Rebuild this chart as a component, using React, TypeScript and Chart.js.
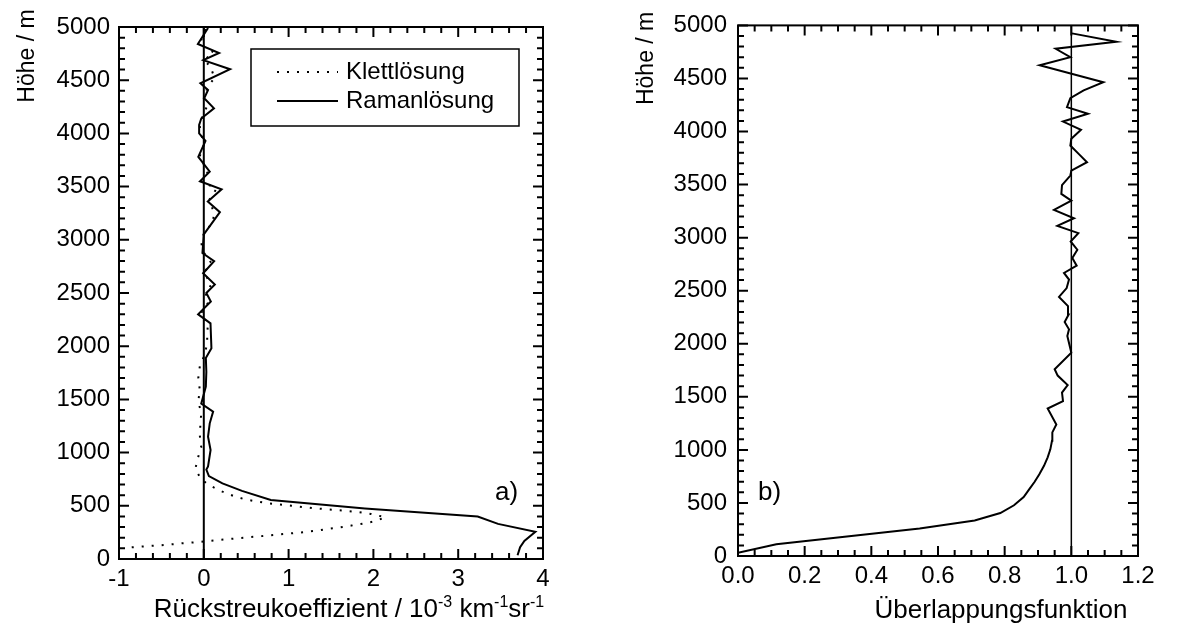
import React, { useEffect, useRef } from "react";
import { Chart, registerables } from "chart.js";

Chart.register(...registerables);

const FONT = "'Liberation Sans', Arial, Helvetica, sans-serif";

// ---- Panel a) : backscatter coefficient profiles ----
const ramanHeights = [
  35, 110, 170, 255, 330, 400, 475, 555, 640, 710, 780, 840, 870, 1025, 1150, 1275, 1385, 1460,
  1620, 1760, 1890, 1980, 2215, 2300, 2420, 2500, 2580, 2685, 2800, 2875, 3050, 3260, 3360,
  3475, 3550, 3640, 3780, 3930, 4000, 4080, 4140, 4236, 4330, 4408, 4471, 4603, 4688, 4756,
  4840, 4990,
];
const ramanValues = [
  3.70, 3.73, 3.78, 3.91, 3.47, 3.23, 1.90, 0.79, 0.45, 0.22, 0.06, 0.03, 0.05, 0.08, 0.05,
  0.07, 0.11, -0.03, 0.024, 0.03, 0.024, 0.09, 0.079, -0.067, 0.083, 0.03, 0.13, -0.008, 0.122,
  -0.016, 0.0, 0.19, 0.047, 0.21, -0.045, 0.07, -0.065, 0.02, -0.055, -0.055, -0.03, 0.12,
  0.005, 0.05, -0.04, 0.31, -0.005, 0.18, -0.07, 0.05,
];

const klettHeights = [
  110, 120, 130, 140, 148, 155, 175, 185, 195, 205, 215, 225, 235, 245, 255, 268, 283, 298, 314,
  333, 355, 392, 424, 440, 452, 461, 468, 477, 489, 501, 512, 523, 539, 558, 589, 633, 683, 746,
  846, 949, 1050, 1160, 1265, 1370, 1480, 1590, 1700, 1810, 1900, 2020, 2120, 2215, 2300, 2420,
  2500, 2580, 2690, 2780, 2880, 2970, 3060, 3170, 3260, 3370, 3480, 3550, 3640, 3780, 3910,
  4000, 4095, 4250, 4330, 4440, 4520, 4627, 4690, 4760, 4840, 4990,
];
const klettValues = [
  -0.85, -0.68, -0.5, -0.35, -0.25, -0.13, 0.13, 0.26, 0.4, 0.54, 0.68, 0.82, 0.95, 1.08, 1.21,
  1.34, 1.47, 1.61, 1.74, 1.88, 2.02, 2.14, 1.97, 1.83, 1.69, 1.56, 1.44, 1.3, 1.165, 1.03, 0.9,
  0.765, 0.635, 0.5, 0.36, 0.22, 0.09, -0.03, -0.1, -0.07, -0.03, -0.047, -0.04, -0.03, -0.065,
  -0.047, -0.065, -0.047, 0.0, 0.04, 0.04, 0.05, -0.04, 0.06, 0.02, 0.09, 0.0, 0.09, 0.0, -0.03,
  0.0, 0.11, 0.12, 0.06, 0.15, -0.03, 0.05, -0.05, 0.01, -0.04, -0.05, 0.035, 0.0, 0.047, 0.126,
  0.08, 0.0, 0.12, -0.05, 0.03,
];

// ---- Panel b) : overlap function ----
const overlapHeights = [
  30, 110, 260, 335, 405, 478, 556, 630, 700, 770, 850, 930, 1005, 1085, 1165, 1240, 1390, 1460,
  1540, 1610, 1700, 1760, 1915, 2073, 2136, 2205, 2275, 2355, 2442, 2525, 2605, 2667, 2736,
  2808, 2886, 2964, 3043, 3111, 3183, 3261, 3349, 3412, 3495, 3585, 3632, 3711, 3789, 3868,
  3931, 4016, 4094, 4167, 4230, 4315, 4387, 4465, 4625, 4700, 4780, 4845, 4925,
];
const overlapValues = [
  0.0, 0.115, 0.545, 0.71, 0.787, 0.828, 0.857, 0.874, 0.89, 0.904, 0.918, 0.929, 0.937, 0.942,
  0.943, 0.955, 0.929, 0.975, 0.972, 0.989, 0.959, 0.95, 1.0, 0.988, 0.993, 0.98, 0.992, 0.99,
  0.963, 0.986, 0.993, 0.978, 1.016, 1.003, 1.018, 0.998, 1.021, 0.958, 1.008, 0.948, 1.0, 0.97,
  0.972, 0.997, 1.0, 1.047, 1.022, 0.997, 1.0, 1.029, 0.975, 1.05, 0.987, 0.997, 1.037, 1.096,
  0.905, 0.997, 0.953, 1.135, 1.002,
];

const heightTicksMajor = 500;
const heightTicksMinor = 100;

const toPoints = (hs: number[], vs: number[]) => hs.map((h, i) => ({ x: vs[i], y: h }));

const framePlugin = {
  id: "frame",
  afterDatasetsDraw(chart: any, _args: any, opts: any) {
    const { ctx, chartArea: a, scales } = chart;
    const x = scales.x;
    const y = scales.y;
    ctx.save();
    ctx.strokeStyle = "#000";
    ctx.lineCap = "butt";
    // reference line
    const rx = x.getPixelForValue(opts.refX);
    ctx.lineWidth = opts.refWidth;
    ctx.beginPath();
    ctx.moveTo(rx, a.top);
    ctx.lineTo(rx, a.bottom);
    ctx.stroke();
    // frame
    ctx.lineWidth = 2;
    ctx.strokeRect(a.left, a.top, a.right - a.left, a.bottom - a.top);
    // ticks
    const major = 10;
    const minor = 6;
    ctx.lineWidth = 2;
    ctx.beginPath();
    const nx = Math.round((opts.xMax - opts.xMin) / opts.xMinor);
    for (let i = 0; i <= nx; i++) {
      const v = opts.xMin + i * opts.xMinor;
      const px = x.getPixelForValue(v);
      const isMajor = Math.abs(v / opts.xMajor - Math.round(v / opts.xMajor)) < 1e-6;
      const len = isMajor ? major : minor;
      ctx.moveTo(px, a.bottom);
      ctx.lineTo(px, a.bottom - len);
      ctx.moveTo(px, a.top);
      ctx.lineTo(px, a.top + len);
    }
    const ny = Math.round(5000 / heightTicksMinor);
    for (let i = 0; i <= ny; i++) {
      const v = i * heightTicksMinor;
      const py = y.getPixelForValue(v);
      const len = v % heightTicksMajor === 0 ? major : minor;
      ctx.moveTo(a.left, py);
      ctx.lineTo(a.left + len, py);
      ctx.moveTo(a.right, py);
      ctx.lineTo(a.right - len, py);
    }
    ctx.stroke();

    // y title
    ctx.fillStyle = "#000";
    ctx.font = `23px ${FONT}`;
    ctx.save();
    ctx.translate(a.left + opts.yTitleDx, a.top + opts.yTitleDy);
    ctx.rotate(-Math.PI / 2);
    ctx.textAlign = "center";
    ctx.textBaseline = "middle";
    ctx.fillText("Höhe / m", 0, 0);
    ctx.restore();

    // x title with superscripts
    const parts: [string, boolean][] = opts.xTitle;
    const mainSize = 26;
    const supSize = 16;
    let total = 0;
    for (const [t, sup] of parts) {
      ctx.font = `${sup ? supSize : mainSize}px ${FONT}`;
      total += ctx.measureText(t).width;
    }
    let tx = a.left + opts.xTitleCx - total / 2;
    const by = a.bottom + opts.xTitleDy;
    ctx.textAlign = "left";
    ctx.textBaseline = "alphabetic";
    for (const [t, sup] of parts) {
      ctx.font = `${sup ? supSize : mainSize}px ${FONT}`;
      ctx.fillText(t, tx, sup ? by - 10 : by);
      tx += ctx.measureText(t).width;
    }

    // panel label
    ctx.font = `26px ${FONT}`;
    ctx.textAlign = "left";
    ctx.textBaseline = "middle";
    ctx.fillText(opts.panel, a.left + opts.panelDx, a.bottom - opts.panelDy);

    // legend
    if (opts.legend) {
      const L = opts.legend;
      const bx = a.left + L.dx;
      const bt = a.top + L.dy;
      ctx.lineWidth = 1.5;
      ctx.strokeRect(bx, bt, L.w, L.h);
      ctx.font = `24px ${FONT}`;
      L.items.forEach((it: any, i: number) => {
        const cy = bt + L.rows[i];
        ctx.save();
        ctx.lineWidth = 2;
        ctx.setLineDash(it.dash || []);
        ctx.beginPath();
        ctx.moveTo(bx + 26, cy);
        ctx.lineTo(bx + 87, cy);
        ctx.stroke();
        ctx.restore();
        ctx.fillText(it.label, bx + 95, cy);
      });
    }
    ctx.restore();
  },
};

function makeScale(min: number, max: number, step: number, pad: number, fitKey: "width" | "height", fit: number, fmt?: (v: number) => string) {
  return {
    type: "linear",
    min,
    max,
    ticks: {
      stepSize: step,
      color: "#000",
      font: { family: FONT, size: 24 },
      padding: pad,
      maxRotation: 0,
      autoSkip: false,
      callback: fmt ? (v: any) => fmt(Number(v)) : (v: any) => String(Math.round(Number(v) * 1000) / 1000),
    },
    grid: { display: false, drawTicks: false },
    border: { display: false },
    afterFit: (s: any) => {
      s[fitKey] = fit;
    },
  };
}

function Panel({ left, width, cfg }: { left: number; width: number; cfg: any }) {
  const ref = useRef<HTMLCanvasElement | null>(null);
  useEffect(() => {
    if (!ref.current) return;
    const chart = new Chart(ref.current, cfg);
    return () => chart.destroy();
  }, []);
  return (
    <canvas
      ref={ref}
      width={width}
      height={630}
      style={{ position: "absolute", left, top: 0, width, height: 630 }}
    />
  );
}

const DASH_DOT = [2, 8];

const leftCfg: any = {
  type: "line",
  data: {
    datasets: [
      {
        label: "Klettlösung",
        data: toPoints(klettHeights, klettValues),
        borderColor: "#000",
        borderWidth: 2,
        borderDash: DASH_DOT,
        pointRadius: 0,
        tension: 0,
        fill: false,
      },
      {
        label: "Ramanlösung",
        data: toPoints(ramanHeights, ramanValues),
        borderColor: "#000",
        borderWidth: 2,
        pointRadius: 0,
        tension: 0,
        fill: false,
      },
    ],
  },
  options: {
    animation: false,
    responsive: false,
    maintainAspectRatio: false,
    layout: { padding: { left: 0, right: 47, top: 27, bottom: 0 } },
    plugins: {
      legend: { display: false },
      tooltip: { enabled: false },
      frame: {
        refX: 0,
        refWidth: 2,
        xMin: -1,
        xMax: 4,
        xMajor: 1,
        xMinor: 0.2,
        yTitleDx: -91,
        yTitleDy: 29,
        xTitle: [
          ["Rückstreukoeffizient / 10", false],
          ["-3", true],
          [" km", false],
          ["-1", true],
          ["sr", false],
          ["-1", true],
        ],
        xTitleCx: 230,
        xTitleDy: 58,
        panel: "a)",
        panelDx: 376,
        panelDy: 66,
        legend: {
          dx: 132,
          dy: 22,
          w: 268,
          h: 77,
          rows: [23, 52],
          items: [
            { label: "Klettlösung", dash: DASH_DOT },
            { label: "Ramanlösung", dash: null },
          ],
        },
      },
    },
    scales: {
      x: makeScale(-1, 4, 1, 6, "height", 71),
      y: makeScale(0, 5000, 500, 9, "width", 119),
    },
  },
  plugins: [framePlugin],
};

const rightCfg: any = {
  type: "line",
  data: {
    datasets: [
      {
        label: "Überlappungsfunktion",
        data: toPoints(overlapHeights, overlapValues),
        borderColor: "#000",
        borderWidth: 2,
        pointRadius: 0,
        tension: 0,
        fill: false,
      },
    ],
  },
  options: {
    animation: false,
    responsive: false,
    maintainAspectRatio: false,
    layout: { padding: { left: 0, right: 41, top: 23, bottom: 0 } },
    plugins: {
      legend: { display: false },
      tooltip: { enabled: false },
      frame: {
        refX: 1.0,
        refWidth: 1.5,
        xMin: 0,
        xMax: 1.2,
        xMajor: 0.2,
        xMinor: 0.05,
        yTitleDx: -91,
        yTitleDy: 33,
        xTitle: [["Überlappungsfunktion", false]],
        xTitleCx: 263,
        xTitleDy: 62,
        panel: "b)",
        panelDx: 20,
        panelDy: 63,
        legend: null,
      },
    },
    scales: {
      x: makeScale(0, 1.2, 0.2, 6, "height", 74, (v) => v.toFixed(1)),
      y: makeScale(0, 5000, 500, 11, "width", 148),
    },
  },
  plugins: [framePlugin],
};

export default function App() {
  return (
    <div style={{ position: "absolute", left: 0, top: 0, width: 1179, height: 630, background: "#fff" }}>
      <Panel left={0} width={590} cfg={leftCfg} />
      <Panel left={590} width={589} cfg={rightCfg} />
    </div>
  );
}
